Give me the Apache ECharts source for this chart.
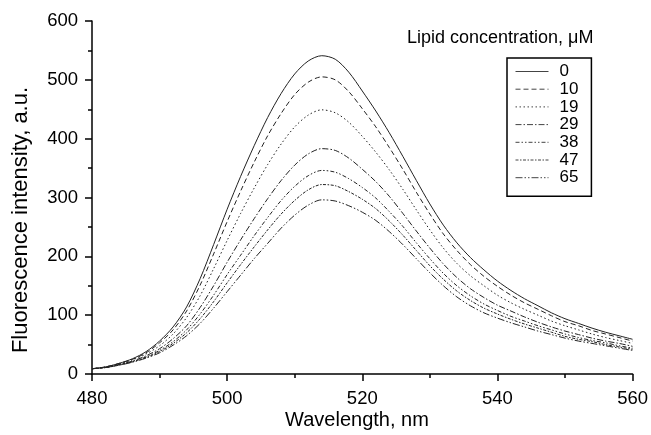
<!DOCTYPE html>
<html>
<head>
<meta charset="utf-8">
<script src="https://cdn.jsdelivr.net/npm/echarts@6/dist/echarts.min.js"></script>
<style>
html, body { margin: 0; padding: 0; background: #fff; }
#chart { width: 651px; height: 435px; }
</style>
</head>
<body>
<div id="chart"></div>
<script>
// wavelength, nm
var wavelengths = [480,482,484,486,488,490,492,494,496,498,500,502,504,506,508,510,512,514,516,518,520,
    522,524,526,528,530,532,534,536,538,540,542,544,546,548,550,552,554,556,558,560];

// fluorescence intensity for each lipid concentration (uM)
var conc0 = [9,12,18,26,38,56,80,114,162,220,280,336,388,436,477,510,532,541,535,513,481,
    447,410,370,329,289,253,223,198,177,158,142,128,116,104,94,86,78,71,65,59];
var conc10 = [9,12,18,25,36,53,75,107,151,204,259,311,360,405,443,475,496,505,500,480,451,
    420,385,348,309,272,238,210,186,166,149,134,121,110,99,89,82,74,68,62,56];
var conc19 = [9,12,17,24,34,48,68,96,133,179,227,273,316,356,391,420,440,449,444,428,404,
    377,347,314,279,245,214,188,167,150,134,121,110,100,90,82,75,68,62,57,52];
var conc29 = [9,11,16,22,31,43,60,82,113,150,190,228,264,298,329,355,374,383,380,367,348,
    327,302,273,243,214,187,164,145,130,117,107,97,88,80,73,67,61,56,52,47];
var conc38 = [9,11,16,21,29,40,55,75,102,134,169,202,235,266,295,319,337,346,343,332,317,
    299,276,251,223,196,171,150,133,119,108,98,90,82,75,68,62,57,53,48,44];
var conc47 = [9,11,15,21,28,38,52,70,94,123,155,186,216,245,272,295,313,322,320,310,297,
    281,260,236,210,184,161,141,125,112,102,93,85,78,71,64,59,55,50,46,42];
var conc65 = [9,11,15,20,27,36,49,65,86,112,140,168,196,222,248,270,287,296,294,286,275,
    261,242,220,196,172,150,131,116,104,95,87,80,73,67,61,56,52,48,44,40];

var legendNames = ['0','10','19','29','38','47','65'];
var allSeries = [conc0, conc10, conc19, conc29, conc38, conc47, conc65];
var dashes = ['solid', [5,3], [1.5,2.5], [6,2,1.5,2], [4,2,1.5,2,1.5,2], [3,1.5,1.5,1.5], [7,2,1.5,2,1.5,2]];

function pairs(vals) {
    return wavelengths.map(function (w, i) { return [w, vals[i]]; });
}

var myChart = echarts.init(document.getElementById('chart'));
var font = 'Liberation Sans, Arial, sans-serif';

var option = {
    backgroundColor: '#fff',
    animation: false,
    textStyle: { fontFamily: font },
    grid: { left: 92, right: 17, top: 21, bottom: 61 },
    graphic: [{
        type: 'text',
        left: 407,
        top: 29,
        style: { text: 'Lipid concentration, \u03bcM', font: '18px ' + font, fill: '#000' }
    }, {
        type: 'text',
        x: 21,
        y: 220,
        rotation: Math.PI / 2,
        style: {
            text: 'Fluorescence intensity, a.u.', font: '22px ' + font, fill: '#000',
            align: 'center', verticalAlign: 'middle'
        }
    }, {
        type: 'text',
        x: 357,
        y: 420,
        style: {
            text: 'Wavelength, nm', font: '20px ' + font, fill: '#000',
            align: 'center', verticalAlign: 'middle'
        }
    }],
    legend: {
        data: legendNames,
        orient: 'vertical',
        left: 507,
        top: 58,
        padding: [5, 13, 10, 8],
        borderColor: '#000',
        borderWidth: 1.5,
        itemWidth: 33,
        itemHeight: 12,
        itemGap: 0.7,
        itemStyle: { opacity: 0 },
        lineStyle: { color: '#444', width: 1 },
        textStyle: { fontSize: 17, color: '#000', fontFamily: font, padding: [0, 0, 0, 6] }
    },
    xAxis: {
        type: 'value',
        min: 480,
        max: 560,
        interval: 20,
        axisLine: { lineStyle: { color: '#000', width: 1.5 } },
        axisTick: { length: 7, lineStyle: { color: '#000', width: 1.5 } },
        minorTick: { show: true, splitNumber: 2, length: 4, lineStyle: { color: '#000', width: 1.5 } },
        axisLabel: { fontSize: 18.5, color: '#000', margin: 15 },
        splitLine: { show: false }
    },
    yAxis: {
        type: 'value',
        min: 0,
        max: 600,
        interval: 100,
        axisLine: { show: true, lineStyle: { color: '#000', width: 1.5 } },
        axisTick: { show: true, length: 7, lineStyle: { color: '#000', width: 1.5 } },
        minorTick: { show: true, splitNumber: 2, length: 4, lineStyle: { color: '#000', width: 1.5 } },
        axisLabel: { fontSize: 18.5, color: '#000', margin: 14 },
        splitLine: { show: false }
    },
    series: allSeries.map(function (vals, i) {
        return {
            name: legendNames[i],
            type: 'line',
            smooth: 0.3,
            symbol: 'none',
            data: pairs(vals),
            lineStyle: { color: '#222', width: 1, type: dashes[i] },
            itemStyle: { color: '#222' }
        };
    })
};
myChart.setOption(option);
</script>
</body>
</html>
